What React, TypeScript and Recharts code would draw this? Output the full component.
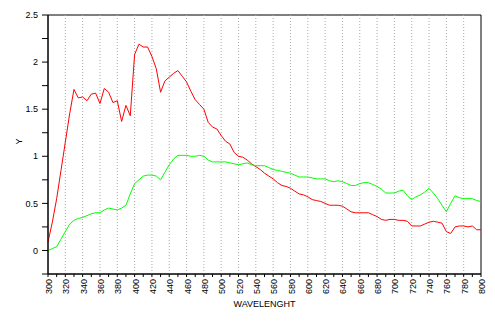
import { LineChart, Line, XAxis, YAxis, ReferenceLine, ReferenceArea } from "recharts";

const wavelength = [
  300, 305, 310, 315, 320, 325, 330, 335, 340, 345, 350, 355, 360, 365, 370, 375, 380, 385, 390, 395,
  400, 405, 410, 415, 420, 425, 430, 435, 440, 445, 450, 455, 460, 465, 470, 475, 480, 485, 490, 495,
  500, 505, 510, 515, 520, 525, 530, 535, 540, 545, 550, 555, 560, 565, 570, 575, 580, 585, 590, 595,
  600, 605, 610, 615, 620, 625, 630, 635, 640, 645, 650, 655, 660, 665, 670, 675, 680, 685, 690, 695,
  700, 705, 710, 715, 720, 725, 730, 735, 740, 745, 750, 755, 760, 765, 770, 775, 780, 785, 790, 795,
  800,
];

const redValues = [
  0.09, 0.3, 0.55, 0.85, 1.15, 1.45, 1.71, 1.62, 1.63, 1.59, 1.66, 1.67, 1.56, 1.72, 1.68, 1.57, 1.59, 1.37, 1.54, 1.43,
  2.08, 2.19, 2.16, 2.16, 2.06, 1.93, 1.68, 1.8, 1.84, 1.88, 1.91, 1.85, 1.79, 1.69, 1.6, 1.55, 1.5, 1.36, 1.31, 1.29,
  1.22, 1.16, 1.13, 1.04, 1.0, 0.99, 0.96, 0.92, 0.89, 0.86, 0.82, 0.79, 0.76, 0.72, 0.69, 0.68, 0.66, 0.63, 0.6, 0.59,
  0.57, 0.54, 0.53, 0.52, 0.5, 0.48, 0.48, 0.48, 0.47, 0.44, 0.41, 0.4, 0.4, 0.4, 0.4, 0.38, 0.36, 0.33, 0.32, 0.33,
  0.33, 0.32, 0.32, 0.31, 0.26, 0.26, 0.26, 0.28, 0.3, 0.31, 0.3, 0.29, 0.2, 0.18, 0.25, 0.26, 0.26, 0.25, 0.26, 0.22,
  0.22,
];

const greenValues = [
  0.0, 0.02, 0.04, 0.12, 0.2, 0.28, 0.32, 0.34, 0.35, 0.37, 0.39, 0.4, 0.4, 0.43, 0.45, 0.44, 0.43, 0.45, 0.48, 0.6,
  0.71, 0.75, 0.79, 0.8, 0.8, 0.79, 0.75, 0.83, 0.91, 0.97, 1.01, 1.01, 1.01, 1.0, 1.0, 1.01, 1.0, 0.96, 0.94, 0.94,
  0.94, 0.94, 0.93, 0.92, 0.91, 0.92, 0.93, 0.91, 0.9, 0.9, 0.9, 0.88, 0.86, 0.85, 0.84, 0.83, 0.82, 0.8, 0.78, 0.78,
  0.78, 0.77, 0.76, 0.76, 0.76, 0.74, 0.73, 0.74, 0.73, 0.71, 0.69, 0.69, 0.71, 0.72, 0.72, 0.7, 0.68, 0.65, 0.61, 0.61,
  0.61, 0.63, 0.64, 0.58, 0.54, 0.57, 0.59, 0.62, 0.66, 0.61, 0.55, 0.48, 0.41, 0.5, 0.58, 0.56, 0.55, 0.55, 0.55, 0.53,
  0.52,
];

// ticks every 10, labels every 20
const xTicks = [
  300, 310, 320, 330, 340, 350, 360, 370, 380, 390, 400, 410, 420, 430, 440, 450, 460, 470, 480, 490,
  500, 510, 520, 530, 540, 550, 560, 570, 580, 590, 600, 610, 620, 630, 640, 650, 660, 670, 680, 690,
  700, 710, 720, 730, 740, 750, 760, 770, 780, 790, 800,
];
const xGridLines = [320, 340, 360, 380, 400, 420, 440, 460, 480, 500, 520, 540, 560, 580, 600, 620, 640, 660, 680, 700, 720, 740, 760, 780];
const yTicks = [-0.25, 0, 0.25, 0.5, 0.75, 1, 1.25, 1.5, 1.75, 2, 2.25, 2.5];

const data = wavelength.map((w, i) => ({ w, red: redValues[i], green: greenValues[i] }));

const FONT = "'Liberation Sans', Arial, sans-serif";

function XTick({ x, y, payload }: any) {
  if (payload.value % 20 !== 0) return <g />;
  return (
    <text
      x={x}
      y={y}
      transform={`rotate(-90 ${x} ${y})`}
      textAnchor="end"
      dy="0.45em"
      fontSize={9}
      fontFamily={FONT}
      fill="#000"
    >
      {payload.value}
    </text>
  );
}

function YTick({ x, y, payload }: any) {
  const v = payload.value;
  if (v < 0 || Math.round(v * 2) !== v * 2) return <g />;
  return (
    <text x={x} y={y} textAnchor="end" dy="0.35em" fontSize={9} fontFamily={FONT} fill="#000">
      {String(v)}
    </text>
  );
}

export default function App() {
  return (
    <div style={{ position: "absolute", left: 0, top: 0, width: 495, height: 325, background: "#fff" }}>
      <LineChart width={495} height={325} data={data} margin={{ top: 15, right: 14, left: 0, bottom: 0 }}>
        {xGridLines.map((g) => (
          <ReferenceLine key={g} x={g} stroke="#aaa" strokeDasharray="1 2" />
        ))}
        <XAxis
          dataKey="w"
          type="number"
          domain={[300, 800]}
          ticks={xTicks}
          interval={0}
          height={51}
          tickSize={3}
          tickMargin={2}
          tick={<XTick />}
          stroke="#000"
          label={{ value: "WAVELENGHT", position: "insideBottom", offset: 18, fontSize: 9, fontFamily: FONT, fill: "#000" }}
        />
        <YAxis
          type="number"
          domain={[-0.25, 2.5]}
          ticks={yTicks}
          interval={0}
          width={48}
          tickSize={6}
          tickMargin={4}
          tick={<YTick />}
          stroke="#000"
          allowDataOverflow
          label={{ value: "Y", angle: -90, position: "insideLeft", offset: 19, fontSize: 9, fontFamily: FONT, fill: "#000" }}
        />
        <ReferenceArea x1={300} x2={800} y1={-0.25} y2={2.5} fill="none" stroke="#000" />
        <Line type="linear" dataKey="red" stroke="#ff0000" strokeWidth={1} dot={false} isAnimationActive={false} />
        <Line type="linear" dataKey="green" stroke="#00ff00" strokeWidth={1} dot={false} isAnimationActive={false} />
      </LineChart>
    </div>
  );
}
